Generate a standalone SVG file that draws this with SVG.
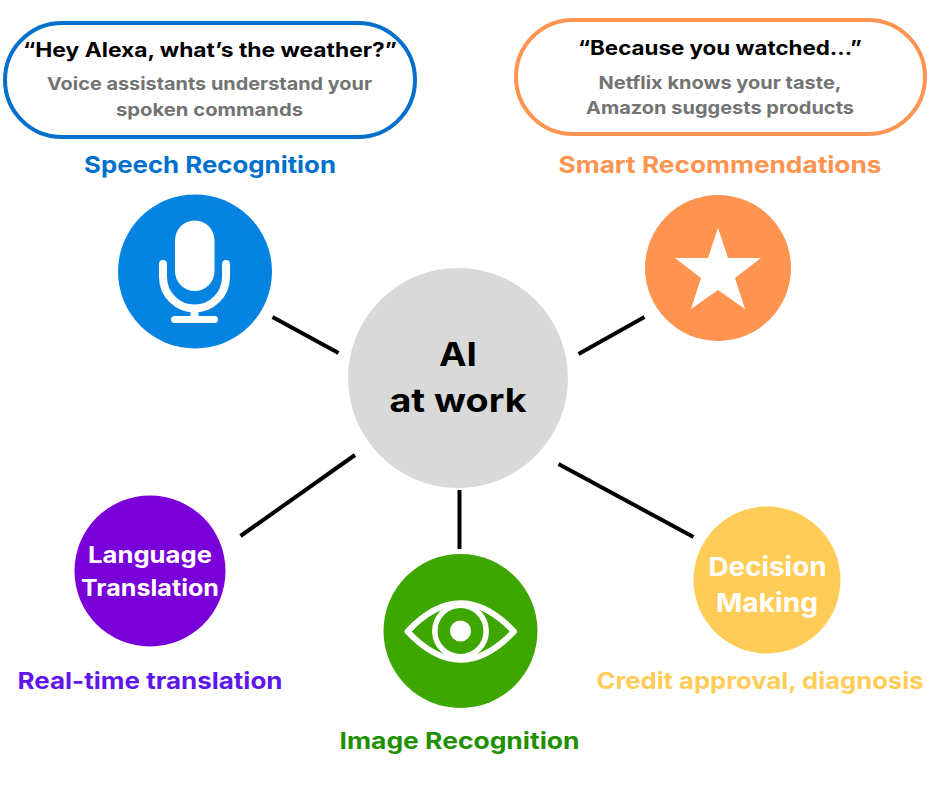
<svg xmlns="http://www.w3.org/2000/svg" width="940" height="788" viewBox="0 0 940 788">
<style>
text{font-family:Inter,"Liberation Sans",sans-serif;font-weight:700;text-anchor:middle}
.q{font-size:20px;fill:#000}
.s{font-size:18px;fill:#737373}
.l{font-size:23px}
.w{font-size:23px;fill:#fff}
.w2{font-size:26px;fill:#fff}
.pill{fill:#fff;stroke-width:4}
.ln{stroke:#000;stroke-width:4;fill:none}
.ic{fill:none;stroke:#fff;stroke-linecap:round}
</style>
<rect width="940" height="788" fill="#fff"/>
<g id="connectors">
<line class="ln" x1="272.500" y1="317" x2="338.500" y2="353"/>
<line class="ln" x1="644.500" y1="317" x2="578.500" y2="354"/>
<line class="ln" x1="355" y1="455" x2="240.500" y2="536"/>
<line class="ln" x1="459.500" y1="490" x2="459.500" y2="549"/>
<line class="ln" x1="558.500" y1="464" x2="693.500" y2="537"/>
</g>
<g id="center">
<circle cx="458" cy="378" r="110" fill="#d9d9d9"/>
<text x="458" y="366" font-size="33" fill="#000" textLength="38" lengthAdjust="spacingAndGlyphs">AI</text>
<text x="458" y="412" font-size="33" fill="#000" textLength="137" lengthAdjust="spacingAndGlyphs">at work</text>
</g>
<g id="speech">
<rect class="pill" x="5" y="23" width="410" height="114" rx="57" stroke="#0070cc"/>
<text class="q" x="210" y="57" textLength="374" lengthAdjust="spacingAndGlyphs">“Hey Alexa, what’s the weather?”</text>
<text class="s" x="209.500" y="90" textLength="325" lengthAdjust="spacingAndGlyphs">Voice assistants understand your</text>
<text class="s" x="209.500" y="116" textLength="187" lengthAdjust="spacingAndGlyphs">spoken commands</text>
<text class="l" x="210" y="173" fill="#0070cc" textLength="252" lengthAdjust="spacingAndGlyphs">Speech Recognition</text>
<circle cx="195" cy="271.500" r="77" fill="#0583e0"/>
<rect x="175" y="220.500" width="39.500" height="70.500" rx="19.750" fill="#fff"/>
<path class="ic" stroke-width="8" d="M163 264V277a31.500 31.500 0 0 0 63 0V264"/>
<path fill="none" stroke="#fff" stroke-width="8" d="M194.500 305V318"/>
<path class="ic" stroke-width="7" d="M174.500 319.500H214.500"/>
</g>
<g id="recommend">
<rect class="pill" x="516" y="20" width="409" height="114" rx="57" stroke="#ff9350"/>
<text class="q" x="720" y="55" textLength="284" lengthAdjust="spacingAndGlyphs">“Because you watched…”</text>
<text class="s" x="720" y="89" textLength="243" lengthAdjust="spacingAndGlyphs">Netflix knows your taste,</text>
<text class="s" x="720" y="114" textLength="268" lengthAdjust="spacingAndGlyphs">Amazon suggests products</text>
<text class="l" x="720" y="173" fill="#ff9350" textLength="323" lengthAdjust="spacingAndGlyphs">Smart Recommendations</text>
<circle cx="718" cy="268" r="73" fill="#ff9350"/>
<polygon fill="#fff" points="718,228 728,258 761,258 735,278 745,309 718,290 691,309 701,278 675,258 708,258"/>
</g>
<g id="translation">
<circle cx="150" cy="571" r="75.500" fill="#7a00da"/>
<text class="w" x="150" y="563" textLength="124" lengthAdjust="spacingAndGlyphs">Language</text>
<text class="w" x="150" y="596" textLength="138" lengthAdjust="spacingAndGlyphs">Translation</text>
<text class="l" x="150" y="689" fill="#5e17eb" textLength="265" lengthAdjust="spacingAndGlyphs">Real-time translation</text>
</g>
<g id="image">
<circle cx="460.500" cy="631" r="77" fill="#3ea600"/>
<path fill="none" stroke="#fff" stroke-width="6" stroke-linejoin="round" d="M407.500 631.500Q460.500 575 514 631.500Q460.500 688 407.500 631.500Z"/>
<circle cx="460.500" cy="631" r="25.700" fill="none" stroke="#fff" stroke-width="5.500"/>
<circle cx="460.500" cy="631" r="10.500" fill="#fff"/>
<text class="l" x="459.500" y="749" fill="#1f9100" textLength="240" lengthAdjust="spacingAndGlyphs">Image Recognition</text>
</g>
<g id="decision">
<circle cx="767" cy="580" r="73.500" fill="#ffcc57"/>
<text class="w2" x="767.500" y="576" textLength="118" lengthAdjust="spacingAndGlyphs">Decision</text>
<text class="w2" x="767" y="612" textLength="102" lengthAdjust="spacingAndGlyphs">Making</text>
<text class="l" x="760" y="689" fill="#ffcc57" textLength="327" lengthAdjust="spacingAndGlyphs">Credit approval, diagnosis</text>
</g>
</svg>
